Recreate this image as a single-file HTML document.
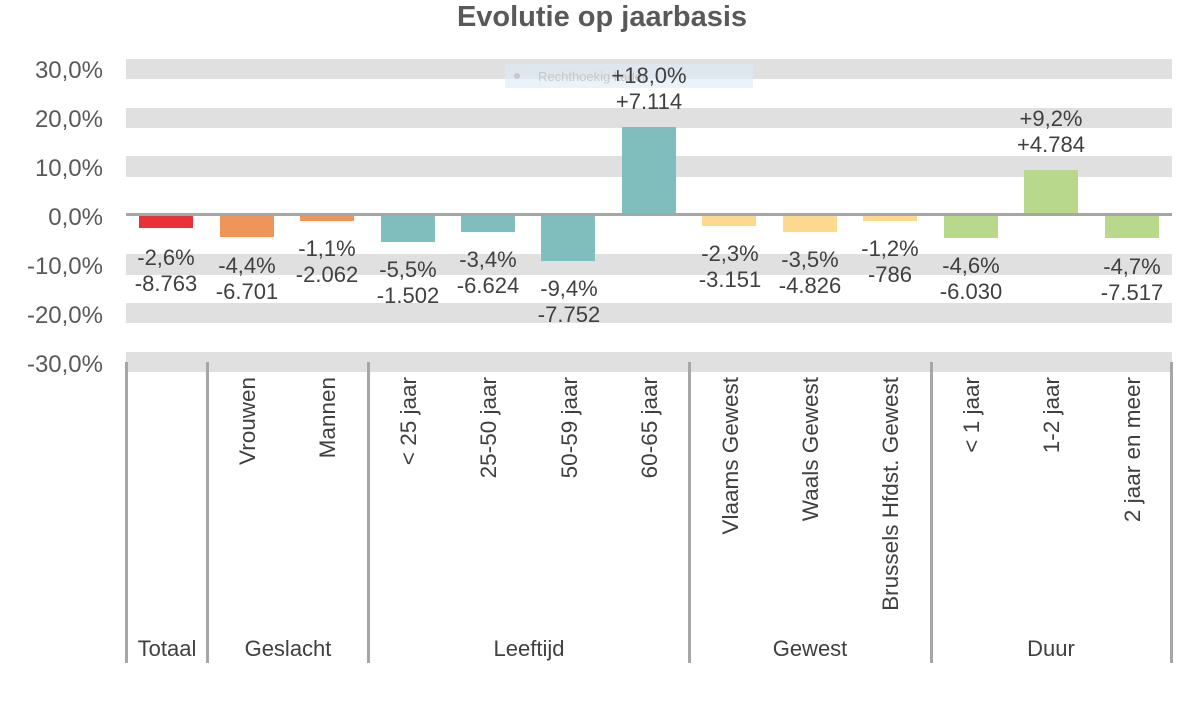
<!DOCTYPE html>
<html><head><meta charset="utf-8"><style>
body{margin:0;background:#fff;}
svg{display:block;font-family:"Liberation Sans",Arial,sans-serif;}
</style></head><body>
<svg width="1204" height="703" viewBox="0 0 1204 703">
<text x="602" y="26" text-anchor="middle" font-size="29" font-weight="bold" fill="#595959">Evolutie op jaarbasis</text>
<g fill="#e0e0e0">
<rect x="126" y="59" width="1046" height="20"/>
<rect x="126" y="108" width="1046" height="20"/>
<rect x="126" y="156" width="1046" height="21"/>
<rect x="126" y="254" width="1046" height="21"/>
<rect x="126" y="303" width="1046" height="20"/>
<rect x="126" y="352" width="1046" height="20"/>
</g>
<rect x="505" y="64" width="248" height="24" fill="#dceaf7" opacity="0.6"/>
<circle cx="517" cy="76" r="3" fill="#c8c8c8"/>
<text x="538" y="81" font-size="13" fill="#c8c8c8">Rechthoekig kader</text>
<g font-size="24" fill="#595959" text-anchor="end">
<text x="103" y="78">30,0%</text>
<text x="103" y="127">20,0%</text>
<text x="103" y="176">10,0%</text>
<text x="103" y="225">0,0%</text>
<text x="103" y="274">-10,0%</text>
<text x="103" y="323">-20,0%</text>
<text x="103" y="372">-30,0%</text>
</g>
<g>
<rect x="139" y="215" width="54" height="13" fill="#e83237"/>
<rect x="220" y="215" width="54" height="22" fill="#f0955a"/>
<rect x="300" y="215" width="54" height="6" fill="#f0955a"/>
<rect x="381" y="215" width="54" height="27" fill="#80bdbd"/>
<rect x="461" y="215" width="54" height="17" fill="#80bdbd"/>
<rect x="541" y="215" width="54" height="46" fill="#80bdbd"/>
<rect x="622" y="127" width="54" height="88" fill="#80bdbd"/>
<rect x="702" y="215" width="54" height="11" fill="#fdd88f"/>
<rect x="783" y="215" width="54" height="17" fill="#fdd88f"/>
<rect x="863" y="215" width="54" height="6" fill="#fdd88f"/>
<rect x="944" y="215" width="54" height="23" fill="#b8d88b"/>
<rect x="1024" y="170" width="54" height="45" fill="#b8d88b"/>
<rect x="1105" y="215" width="54" height="23" fill="#b8d88b"/>
</g>
<rect x="126" y="213" width="1046" height="3" fill="#a6a6a6"/>
<g font-size="22" fill="#404040" text-anchor="middle">
<text x="166" y="265">-2,6%</text><text x="166" y="291">-8.763</text>
<text x="247" y="273">-4,4%</text><text x="247" y="299">-6.701</text>
<text x="327" y="256">-1,1%</text><text x="327" y="282">-2.062</text>
<text x="408" y="277">-5,5%</text><text x="408" y="303">-1.502</text>
<text x="488" y="267">-3,4%</text><text x="488" y="293">-6.624</text>
<text x="569" y="296">-9,4%</text><text x="569" y="322">-7.752</text>
<text x="649" y="83">+18,0%</text><text x="649" y="109">+7.114</text>
<text x="730" y="261">-2,3%</text><text x="730" y="287">-3.151</text>
<text x="810" y="267">-3,5%</text><text x="810" y="293">-4.826</text>
<text x="890" y="256">-1,2%</text><text x="890" y="282">-786</text>
<text x="971" y="273">-4,6%</text><text x="971" y="299">-6.030</text>
<text x="1051" y="126">+9,2%</text><text x="1051" y="152">+4.784</text>
<text x="1132" y="274">-4,7%</text><text x="1132" y="300">-7.517</text>
</g>
<g fill="#a6a6a6">
<rect x="125" y="362" width="3" height="301"/>
<rect x="206" y="362" width="3" height="301"/>
<rect x="367" y="362" width="3" height="301"/>
<rect x="688" y="362" width="3" height="301"/>
<rect x="930" y="362" width="3" height="301"/>
<rect x="1170" y="362" width="3" height="301"/>
</g>
<g font-size="22.5" fill="#404040" text-anchor="end">
<text transform="translate(255,377) rotate(-90)">Vrouwen</text>
<text transform="translate(335,377) rotate(-90)">Mannen</text>
<text transform="translate(416,377) rotate(-90)">&lt; 25 jaar</text>
<text transform="translate(496,377) rotate(-90)">25-50 jaar</text>
<text transform="translate(577,377) rotate(-90)">50-59 jaar</text>
<text transform="translate(657,377) rotate(-90)">60-65 jaar</text>
<text transform="translate(738,377) rotate(-90)">Vlaams Gewest</text>
<text transform="translate(818,377) rotate(-90)">Waals Gewest</text>
<text transform="translate(898,377) rotate(-90)">Brussels Hfdst. Gewest</text>
<text transform="translate(979,377) rotate(-90)">&lt; 1 jaar</text>
<text transform="translate(1059,377) rotate(-90)">1-2 jaar</text>
<text transform="translate(1140,377) rotate(-90)">2 jaar en meer</text>
</g>
<g font-size="22" fill="#404040" text-anchor="middle">
<text x="167" y="656">Totaal</text>
<text x="288" y="656">Geslacht</text>
<text x="529" y="656">Leeftijd</text>
<text x="810" y="656">Gewest</text>
<text x="1051" y="656">Duur</text>
</g>
</svg>
</body></html>
